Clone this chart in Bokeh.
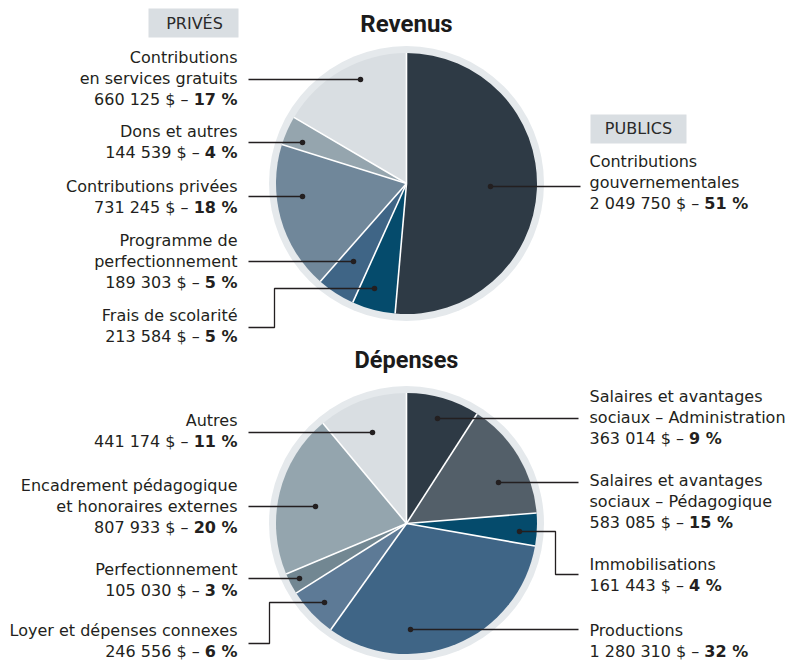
import numpy as np
from bokeh.plotting import figure
from bokeh.models import ColumnDataSource, Range1d
from bokeh.core.properties import value
from bokeh.embed import file_html
from bokeh.resources import INLINE

# ---------------- data ----------------
rev_title = "Revenus"
rev_values = [2049750, 213584, 189303, 731245, 144539, 660125]
rev_lines = [["Contributions", "gouvernementales"],
             ["Frais de scolarité"],
             ["Programme de", "perfectionnement"],
             ["Contributions privées"],
             ["Dons et autres"],
             ["Contributions", "en services gratuits"]]
rev_colors = ["#2e3a45", "#054b6c", "#3f6586", "#70879a", "#95a5ae", "#d9dee2"]

dep_title = "Dépenses"
dep_values = [363014, 583085, 161443, 1280310, 246556, 105030, 807933, 441174]
dep_lines = [["Salaires et avantages", "sociaux – Administration"],
             ["Salaires et avantages", "sociaux – Pédagogique"],
             ["Immobilisations"],
             ["Productions"],
             ["Loyer et dépenses connexes"],
             ["Perfectionnement"],
             ["Encadrement pédagogique", "et honoraires externes"],
             ["Autres"]]
dep_colors = ["#2e3a45", "#535f69", "#054b6c", "#3f6586", "#5d7a96", "#728792", "#94a5ae", "#d9dee2"]

group_labels = ["PRIVÉS", "PUBLICS"]

# ---------------- layout (screen px) ----------------
W, H = 790, 660
TOFF = 7  # text baseline correction
def Y(sy):
    return H - sy
def YT(sy):
    return H - (sy - TOFF)

TXT = "#231f20"
FONT = "DejaVu Sans"
FS = 16
LH = 21

REG = {' ': .318, '$': .636, '–': .5, '%': .950}
BOLD = {' ': .348, '%': 1.002}
def tw(s, table, digit):
    return sum(table.get(c, digit) for c in s) * FS

rev_layout = [
    dict(side="R", x=589, y0=168, path=[(490, 186), (580, 186)]),
    dict(side="L", x=237, y0=322, path=[(374, 288), (274, 288), (274, 327), (248, 327)]),
    dict(side="L", x=237, y0=247, path=[(353, 261), (248, 261)]),
    dict(side="L", x=237, y0=193, path=[(302, 196), (248, 196)]),
    dict(side="L", x=237, y0=138, path=[(302, 142), (248, 142)]),
    dict(side="L", x=237, y0=64, path=[(360, 79), (248, 79)]),
]
dep_layout = [
    dict(side="R", x=589, y0=403, path=[(437, 418), (578, 418)]),
    dict(side="R", x=589, y0=487, path=[(498, 482), (578, 482)]),
    dict(side="R", x=589, y0=571, path=[(519, 531), (555, 531), (555, 574), (578, 574)]),
    dict(side="R", x=589, y0=637, path=[(410, 629), (578, 629)]),
    dict(side="L", x=237, y0=637, path=[(324, 602), (269, 602), (269, 643), (248, 643)]),
    dict(side="L", x=237, y0=576, path=[(299, 578), (248, 578)]),
    dict(side="L", x=237, y0=492, path=[(315, 506), (248, 506)]),
    dict(side="L", x=237, y0=427, path=[(372, 432), (248, 432)]),
]

p = figure(width=W, height=H, x_range=Range1d(0, W), y_range=Range1d(0, H),
           output_backend="svg", toolbar_location=None, x_axis_type=None,
           y_axis_type=None, min_border=0, outline_line_color=None,
           background_fill_color="white", border_fill_color="white")
p.grid.visible = False


def draw_pie(values, colors, lines, layout, cx, cy, title, ty, tsize):
    vals = np.array(values, dtype=float)
    frac = vals / vals.sum()
    cum = np.concatenate([[0], np.cumsum(frac)])
    start = np.pi / 2 - cum[1:] * 2 * np.pi
    end = np.pi / 2 - cum[:-1] * 2 * np.pi
    # ring
    p.circle(x=[cx], y=[Y(cy)], radius=137.5, radius_units="screen",
             fill_color="#e5e9ec", line_color=None)
    src = ColumnDataSource(dict(start=start, end=end, color=colors))
    p.wedge(x=cx, y=Y(cy), radius=130.5, radius_units="screen", start_angle="start",
            end_angle="end", fill_color="color", line_color=None, source=src)
    ang = end
    R = 130.5
    p.segment(x0=[cx] * len(ang), y0=[Y(cy)] * len(ang),
              x1=list(cx + R * np.cos(ang)), y1=list(Y(cy) + R * np.sin(ang)),
              line_color="white", line_width=1.6)
    p.text(x=[cx], y=[YT(ty)], text=[title], text_font=value("Roboto"),
           text_font_style="bold", text_font_size=tsize, text_color="#1b1b1b",
           text_align="center", text_baseline="alphabetic")
    for v, f, ln, lay in zip(values, frac, lines, layout):
        path = lay["path"]
        p.line(x=[q[0] for q in path], y=[Y(q[1]) for q in path],
               line_color=TXT, line_width=1.3)
        p.scatter(x=[path[0][0]], y=[Y(path[0][1])], size=5.5,
                  fill_color=TXT, line_color=None)
        side = lay["side"]
        align = "left" if side == "R" else "right"
        x = lay["x"]
        for i, t in enumerate(ln):
            p.text(x=[x], y=[YT(lay["y0"] + i * LH)], text=[t], text_font=value(FONT),
                   text_font_size=f"{FS}px", text_color=TXT, text_align=align,
                   text_baseline="alphabetic")
        yl = YT(lay["y0"] + len(ln) * LH)
        normal = f"{v:,}".replace(",", " ") + " $ –"
        bold = f"{round(f * 100)} %"
        if side == "R":
            xn, xb = x, x + tw(normal, REG, .636) + REG[' '] * FS
        else:
            xb, xn = x, x - tw(bold, BOLD, .696) - REG[' '] * FS
        p.text(x=[xn], y=[yl], text=[normal], text_font=value(FONT),
               text_font_size=f"{FS}px", text_color=TXT, text_align=align,
               text_baseline="alphabetic")
        p.text(x=[xb], y=[yl], text=[bold], text_font=value(FONT), text_font_style="bold",
               text_font_size=f"{FS}px", text_color=TXT, text_align=align,
               text_baseline="alphabetic")


draw_pie(rev_values, rev_colors, rev_lines, rev_layout, 406, 183, rev_title, 30, "24px")
draw_pie(dep_values, dep_colors, dep_lines, dep_layout, 406, 523, dep_title, 366, "23.5px")

# group boxes
p.quad(left=[148, 590], right=[238, 686], top=[Y(8), Y(114)], bottom=[Y(37), Y(143)],
       fill_color="#d9dee2", line_color=None)
p.text(x=[194, 638], y=[YT(29.5), YT(135)], text=group_labels, text_font=value(FONT),
       text_font_size="16px", text_color="#2a2a2a", text_align="center",
       text_baseline="alphabetic")

open("out.html", "w").write(file_html(p, INLINE))
